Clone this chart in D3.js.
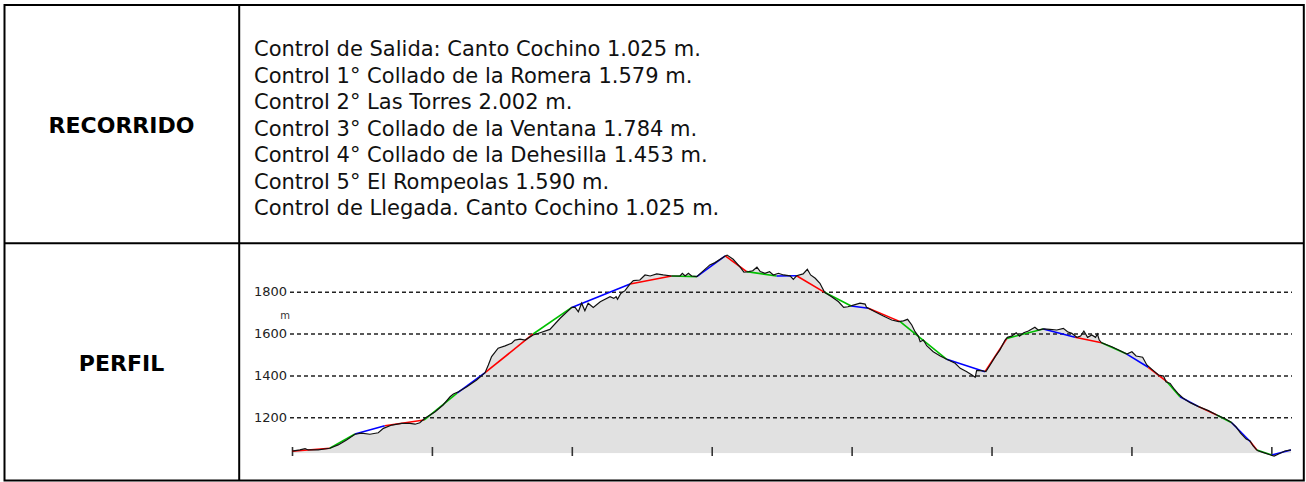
<!DOCTYPE html>
<html lang="es">
<head>
<meta charset="utf-8">
<title>Recorrido y perfil</title>
<script src="https://cdn.jsdelivr.net/npm/d3@7"></script>
<style>
  body { margin: 0; background: #fff; }
  text { font-family: "DejaVu Sans", Verdana, sans-serif; }
</style>
</head>
<body>
<script>
// textos de la tabla
var etiquetas = ["RECORRIDO", "PERFIL"];
var controles = [
  "Control de Salida: Canto Cochino 1.025 m.",
  "Control 1° Collado de la Romera 1.579 m.",
  "Control 2° Las Torres 2.002 m.",
  "Control 3° Collado de la Ventana 1.784 m.",
  "Control 4° Collado de la Dehesilla 1.453 m.",
  "Control 5° El Rompeolas 1.590 m.",
  "Control de Llegada. Canto Cochino 1.025 m."
];

// perfil real (traza negra): distancia en km, altitud en m
var kmPerfil = [0.00,0.17,0.28,0.35,0.56,0.81,0.99,1.17,1.35,1.49,1.67,1.85,1.96,2.14,2.35,2.53,2.64,2.74,2.85,3.07,
  3.24,3.39,3.46,3.57,3.75,3.96,4.14,4.21,4.28,4.42,4.57,4.71,4.78,4.89,5.00,5.17,5.32,5.53,5.75,6.00,
  6.07,6.14,6.21,6.28,6.35,6.46,6.61,6.82,6.90,6.95,6.98,7.05,7.14,7.25,7.32,7.46,7.57,7.68,7.82,7.96,
  8.14,8.32,8.37,8.43,8.50,8.57,8.68,8.96,9.07,9.29,9.33,9.46,9.61,9.69,9.79,9.88,9.97,10.04,10.14,10.24,
  10.32,10.43,10.54,10.68,10.75,10.82,10.96,11.05,11.12,11.22,11.32,11.42,11.57,11.72,11.83,11.92,12.02,12.18,12.29,12.32,
  12.50,12.68,12.86,13.01,13.11,13.20,13.29,13.36,13.43,13.47,13.54,13.61,13.75,13.90,14.04,14.22,14.33,14.47,14.58,14.65,
  14.68,14.79,14.88,14.97,15.08,15.18,15.29,15.34,15.43,15.53,15.60,15.69,15.79,15.93,16.00,16.11,16.25,16.40,16.54,16.63,
  16.72,16.83,16.91,16.98,17.06,17.15,17.23,17.27,17.31,17.36,17.58,17.76,17.90,18.01,18.10,18.24,18.33,18.44,18.58,18.69,
  18.74,18.83,18.92,19.01,19.11,19.26,19.44,19.65,19.83,19.99,20.13,20.24,20.34,20.46,20.54,20.61,20.70,20.83,20.97,21.06,
  21.19,21.29,21.42];
var altPerfil = [1038,1044,1050,1044,1044,1052,1068,1092,1119,1124,1119,1126,1147,1163,1171,1171,1167,1174,1195,1227,
  1259,1298,1311,1322,1346,1378,1413,1450,1490,1530,1541,1554,1569,1573,1569,1593,1604,1620,1673,1725,
  1725,1704,1745,1709,1745,1725,1752,1776,1768,1776,1764,1792,1805,1837,1853,1856,1880,1875,1885,1880,
  1875,1875,1888,1875,1888,1875,1872,1928,1939,1971,1975,1955,1917,1893,1896,1900,1917,1896,1888,1896,
  1880,1888,1880,1876,1859,1876,1885,1907,1880,1864,1840,1797,1776,1752,1725,1728,1735,1745,1741,1725,
  1704,1684,1665,1657,1661,1668,1641,1609,1588,1561,1569,1542,1513,1493,1477,1458,1434,1418,1402,1391,
  1423,1423,1418,1450,1490,1522,1569,1582,1588,1604,1588,1604,1612,1630,1617,1622,1620,1617,1625,1609,
  1601,1582,1588,1612,1582,1593,1582,1598,1569,1556,1537,1518,1502,1513,1493,1487,1450,1429,1402,1397,
  1370,1362,1334,1311,1291,1270,1251,1232,1211,1195,1178,1155,1124,1096,1088,1063,1041,1031,1021,1015,
  1028,1039,1044];

// tramos rectos de colores
var kmTramos = [0.00,0.81,1.35,1.99,2.83,3.54,4.14,5.17,6.00,7.25,8.14,8.68,9.29,9.75,10.39,10.82,11.42,11.99,12.36,
  13.04,14.04,14.86,15.33,16.11,16.79,17.36,17.90,18.36,18.76,19.04,19.44,19.83,20.15,20.55,20.69,21.01,21.42];
var altTramos = [1038,1052,1120,1160,1187,1315,1413,1598,1725,1837,1875,1872,1971,1896,1875,1876,1797,1732,1721,
  1657,1477,1418,1577,1622,1582,1556,1502,1439,1370,1298,1251,1211,1174,1083,1044,1020,1044];
var coloresTramo = ["#ff0000", "#00c000", "#0000ff"];

var altGrid = [1200, 1400, 1600, 1800];
var kmTicks = [0, 3, 6, 9, 12, 15, 18, 21];
var altBase = 1028;

var W = 1306, H = 482;
var svg = d3.select("body").append("svg")
    .attr("width", W)
    .attr("height", H);

// tabla
var colX = 239.2, rowY = 243.3;
svg.append("rect")
    .attr("x", 4.5).attr("y", 5)
    .attr("width", 1303.8 - 4.5).attr("height", 480.5 - 5)
    .attr("fill", "none").attr("stroke", "#000").attr("stroke-width", 2);
svg.append("line")
    .attr("x1", colX).attr("x2", colX).attr("y1", 5).attr("y2", 480.5)
    .attr("stroke", "#000").attr("stroke-width", 2);
svg.append("line")
    .attr("x1", 4.5).attr("x2", 1303.8).attr("y1", rowY).attr("y2", rowY)
    .attr("stroke", "#000").attr("stroke-width", 2);

svg.selectAll("text.etiqueta")
    .data(etiquetas)
    .enter()
    .append("text")
    .attr("class", "etiqueta")
    .attr("x", 121.5)
    .attr("y", function (d, i) { return i == 0 ? 133 : 371; })
    .attr("text-anchor", "middle")
    .attr("font-weight", "bold")
    .attr("font-size", "22px")
    .text(function (d) { return d; });

svg.selectAll("text.control")
    .data(controles)
    .enter()
    .append("text")
    .attr("class", "control")
    .attr("x", 254)
    .attr("y", function (d, i) { return 56 + i * 26.5; })
    .attr("font-size", "21px")
    .attr("fill", "#111")
    .text(function (d) { return d; });

// perfil
var x = d3.scaleLinear().domain([0, 21.4]).range([292, 1290]);
var y = d3.scaleLinear().domain([1200, 1800]).range([417.3, 291.7]);

var perfil = kmPerfil.map(function (k, i) { return [k, altPerfil[i]]; });
var tramos = kmTramos.map(function (k, i) { return [k, altTramos[i]]; });

svg.append("clipPath").attr("id", "sobreBase")
  .append("rect")
    .attr("x", 0).attr("y", 0)
    .attr("width", W).attr("height", y(altBase));

var area = d3.area()
    .x(function (d) { return x(d[0]); })
    .y0(y(altBase))
    .y1(function (d) { return y(d[1]); });

svg.append("path")
    .datum(perfil)
    .attr("d", area)
    .attr("clip-path", "url(#sobreBase)")
    .attr("fill", "#e1e1e1");

// rejilla y etiquetas de altitud
var ejeY = svg.append("g")
    .attr("transform", "translate(290,0)")
    .call(d3.axisLeft(y).tickValues(altGrid).tickSize(-1002).tickPadding(3).tickFormat(d3.format("d")));
ejeY.select(".domain").remove();
ejeY.selectAll(".tick line")
    .attr("stroke", "#222")
    .attr("stroke-width", 1.4)
    .attr("stroke-dasharray", "4,3");
ejeY.selectAll(".tick text")
    .attr("fill", "#222")
    .attr("font-family", "'DejaVu Sans Condensed', 'DejaVu Sans', sans-serif")
    .attr("font-size", "13px");

svg.append("text")
    .attr("x", 285).attr("y", 319)
    .attr("text-anchor", "middle")
    .attr("fill", "#333")
    .attr("font-family", "'DejaVu Sans Condensed', 'DejaVu Sans', sans-serif")
    .attr("font-size", "10px")
    .text("m");

// marcas de distancia
var ejeX = svg.append("g")
    .attr("transform", "translate(0,447)")
    .call(d3.axisBottom(x).tickValues(kmTicks).tickSize(9).tickFormat(""));
ejeX.select(".domain").remove();
ejeX.selectAll(".tick line").attr("stroke", "#333").attr("stroke-width", 1.6);

// tramos de colores
svg.selectAll("line.tramo")
    .data(d3.pairs(tramos))
    .enter()
    .append("line")
    .attr("class", "tramo")
    .attr("x1", function (d) { return x(d[0][0]); })
    .attr("y1", function (d) { return y(d[0][1]); })
    .attr("x2", function (d) { return x(d[1][0]); })
    .attr("y2", function (d) { return y(d[1][1]); })
    .attr("stroke", function (d, i) { return coloresTramo[i % 3]; })
    .attr("stroke-width", 1.6);

// traza negra
var linea = d3.line()
    .x(function (d) { return x(d[0]); })
    .y(function (d) { return y(d[1]); });

svg.append("path")
    .datum(perfil)
    .attr("d", linea)
    .attr("fill", "none")
    .attr("stroke", "#111")
    .attr("stroke-width", 1.2);
</script>
</body>
</html>
